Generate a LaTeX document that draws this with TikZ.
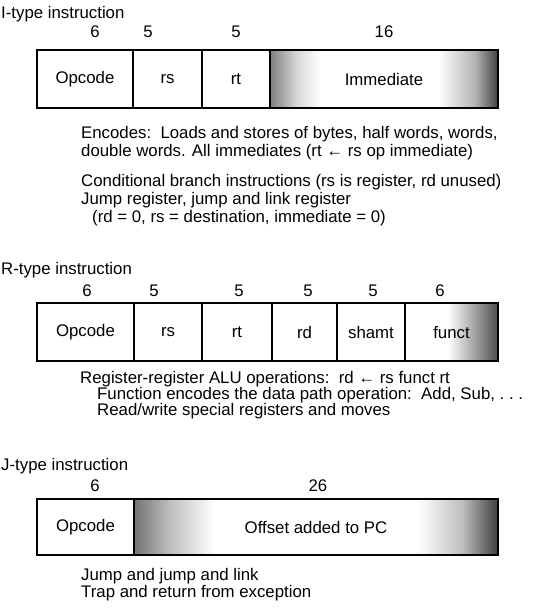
\documentclass[tikz,border=0pt]{standalone}
\usepackage{fontspec}
\setmainfont{Liberation Sans}
\pgfdeclarehorizontalshading{immshade}{100bp}{color(0bp)=(black!50); color(25bp)=(black!50); color(31bp)=(black!15); color(36bp)=(white); color(62bp)=(white); color(70bp)=(black!30); color(75bp)=(black!75); color(100bp)=(black!75)}
\pgfdeclarehorizontalshading{fnshade}{100bp}{color(0bp)=(white); color(25bp)=(white); color(48bp)=(white); color(62bp)=(black!35); color(75bp)=(black!70); color(100bp)=(black!70)}
\pgfdeclarehorizontalshading{offshade}{100bp}{color(0bp)=(black!55); color(25bp)=(black!55); color(30bp)=(black!25); color(36bp)=(white); color(64bp)=(white); color(70bp)=(black!25); color(75bp)=(black!75); color(100bp)=(black!75)}
\begin{document}
\begin{tikzpicture}[x=1pt,y=-1pt,
  every node/.style={inner sep=0pt,font=\fontsize{16.8}{18}\selectfont},
  field/.style={draw=black,line width=1.1pt,inner sep=0pt,fill=white},
  txt/.style={anchor=base west},
  bit/.style={anchor=base}]
\useasboundingbox (0,0) rectangle (537,614);

% ---------- I-type ----------
\node[txt] (ititle) at (1,18) {I-type instruction};
\node[bit] (ib1) at (95,37) {6};
\node[bit] (ib2) at (148,37) {5};
\node[bit] (ib3) at (236,37) {5};
\node[bit] (ib4) at (384,37) {16};
\node[field,minimum width=96,minimum height=58] (iop) at (85,79) {Opcode};
\node[field,minimum width=69,minimum height=58] (irs) at (167.5,79) {rs};
\node[field,minimum width=68,minimum height=58] (irt) at (236,79) {rt};
\node[field,shading=immshade,minimum width=228,minimum height=58] (iimm) at (384,79) {Immediate};
\node[txt] (it1) at (81,138) {Encodes:\ \ Loads and stores of bytes, half words, words,};
\node[txt] (it2) at (81,156) {double words. All immediates (rt ← rs op immediate)};
\node[txt] (it3) at (81,186) {Conditional branch instructions (rs is register, rd unused)};
\node[txt] (it4) at (81,204) {Jump register, jump and link register};
\node[txt] (it5) at (92,222) {(rd = 0, rs = destination, immediate = 0)};

% ---------- R-type ----------
\node[txt] (rtitle) at (1,274) {R-type instruction};
\node[bit] (rb1) at (87,296) {6};
\node[bit] (rb2) at (154,296) {5};
\node[bit] (rb3) at (239,296) {5};
\node[bit] (rb4) at (308,296) {5};
\node[bit] (rb5) at (373,296) {5};
\node[bit] (rb6) at (440,296) {6};
\node[field,minimum width=97,minimum height=58] (rop) at (85.5,332) {Opcode};
\node[field,minimum width=68,minimum height=58] (rrs) at (168,332) {rs};
\node[field,minimum width=70,minimum height=58] (rrt) at (237,332) {rt};
\node[field,minimum width=65,minimum height=58] (rrd) at (304.5,332) {rd};
\node[field,minimum width=67,minimum height=58] (rsh) at (371,332) {shamt};
\node[field,shading=fnshade,minimum width=93,minimum height=58] (rfn) at (451.5,332) {funct};
\node[txt] (rt1) at (80,383) {Register-register ALU operations:\ \ rd ← rs funct rt};
\node[txt] (rt2) at (97,399) {Function encodes the data path operation:\ \ Add, Sub, .\ .\ .};
\node[txt] (rt3) at (97,415) {Read/write special registers and moves};

% ---------- J-type ----------
\node[txt] (jtitle) at (1,470) {J-type instruction};
\node[bit] (jb1) at (95,491) {6};
\node[bit] (jb2) at (318,491) {26};
\node[field,minimum width=97,minimum height=56] (jop) at (85.5,527) {Opcode};
\node[field,shading=offshade,minimum width=364,minimum height=56] (joff) at (316,527) {Offset added to PC};
\node[txt] (jt1) at (81,580) {Jump and jump and link};
\node[txt] (jt2) at (81,597) {Trap and return from exception};
\end{tikzpicture}
\end{document}
